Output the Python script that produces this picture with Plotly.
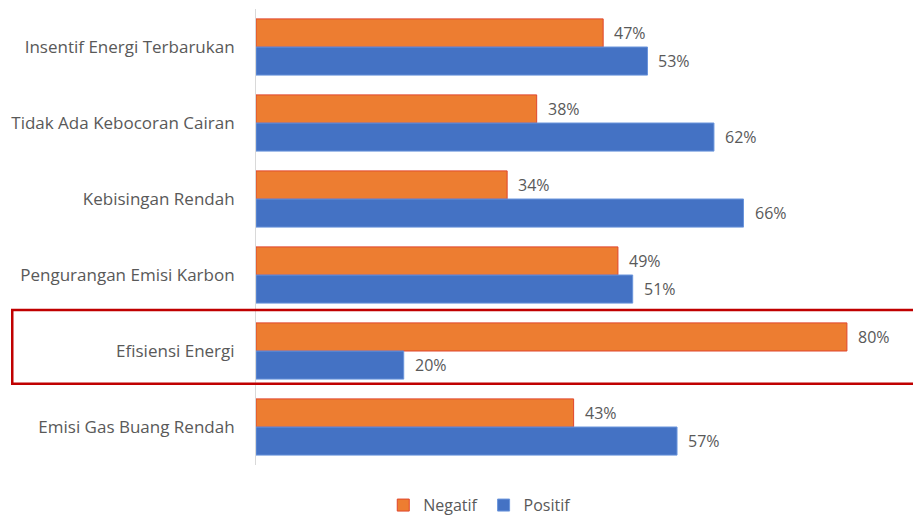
import plotly.graph_objects as go

categories = [
    "Insentif Energi Terbarukan",
    "Tidak Ada Kebocoran Cairan",
    "Kebisingan Rendah",
    "Pengurangan Emisi Karbon",
    "Efisiensi Energi",
    "Emisi Gas Buang Rendah",
]
negatif = [47, 38, 34, 49, 80, 43]
positif = [53, 62, 66, 51, 20, 57]
highlight = "Efisiensi Energi"

ORANGE = "#ED7D31"
BLUE = "#4472C4"
TEXT = "#595959"
FONT = "Open Sans"

fig = go.Figure()
fig.add_trace(go.Bar(
    y=categories, x=negatif, orientation="h", name="Negatif",
    marker=dict(color=ORANGE, line=dict(color="#E0452C", width=1)),
))
fig.add_trace(go.Bar(
    y=categories, x=positif, orientation="h", name="Positif",
    marker=dict(color=BLUE, line=dict(color="#6A95DC", width=1)),
))

# value labels just past the bar ends
for i, cat in enumerate(categories):
    for val, off in ((negatif[i], -0.19), (positif[i], 0.19)):
        fig.add_annotation(
            x=val, y=i + off, xref="x", yref="y", text=f"{val}%",
            showarrow=False, xanchor="left", xshift=9,
            font=dict(size=16, color=TEXT, family=FONT),
        )

# red box around the highlighted category
hi = categories.index(highlight)
fig.add_shape(
    type="rect", xref="paper", yref="y",
    x0=-0.375, x1=1.02, y0=hi - 0.54, y1=hi + 0.43,
    line=dict(color="#C00000", width=2.5), fillcolor="rgba(0,0,0,0)",
)

fig.update_layout(
    width=913, height=516,
    barmode="group", bargap=0.26, bargroupgap=0,
    paper_bgcolor="white", plot_bgcolor="white",
    margin=dict(l=256, r=7, t=9, b=51, autoexpand=False),
    font=dict(family=FONT, size=16, color=TEXT),
    showlegend=True,
    legend=dict(
        orientation="h", x=0.345, xanchor="center",
        yref="container", y=0.021, yanchor="middle",
        font=dict(size=16, color=TEXT), itemwidth=30, traceorder="normal",
    ),
    xaxis=dict(range=[0, 88], visible=False, showgrid=False, zeroline=False),
    yaxis=dict(
        categoryorder="array", categoryarray=categories, autorange="reversed",
        showline=True, linecolor="#D9D9D9", linewidth=1, ticks="",
        ticklabelstandoff=17, showgrid=False, tickfont=dict(size=17, color=TEXT),
    ),
)

fig.write_html(
    "out.html",
    config={"displayModeBar": False},
    post_script="document.body.style.margin='0';",
)
